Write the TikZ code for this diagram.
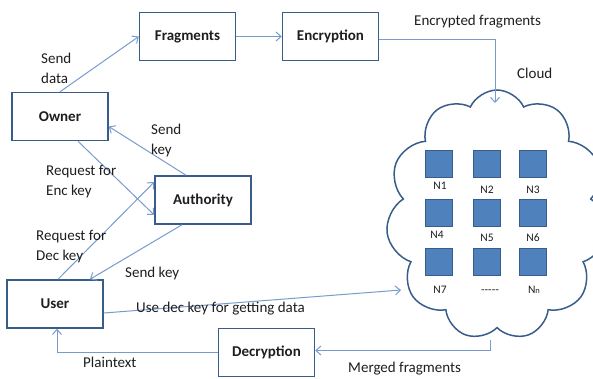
\documentclass[tikz,border=0pt]{standalone}
\usepackage{fontspec}
\setmainfont{Carlito}
\usetikzlibrary{arrows.meta,shapes.symbols}
\definecolor{boxblue}{RGB}{56,93,138}
\definecolor{arrblue}{RGB}{120,155,205}
\definecolor{sqfill}{RGB}{79,129,189}
\definecolor{txt}{RGB}{30,30,30}
\tikzset{
  box/.style={draw=boxblue,line width=1.5pt,minimum width=96pt,minimum height=48pt,inner sep=0pt,font=\fontsize{15}{18}\selectfont\bfseries,text=txt},
  conn/.style={draw=arrblue,line width=1pt,-{Straight Barb[length=5pt,width=9pt]}},
  lbl/.style={inner sep=0pt,font=\fontsize{15}{20}\selectfont,text=txt,align=left},
  sq/.style={draw=boxblue,fill=sqfill,line width=1pt,minimum size=27pt,inner sep=0pt},
  nlbl/.style={inner sep=0pt,font=\fontsize{11.5}{13}\selectfont,text=txt}
}
\begin{document}
\begin{tikzpicture}[x=1pt,y=-1pt]
\useasboundingbox (0,0) rectangle (593,378);
% cloud
\node[cloud,cloud puffs=11,cloud puff arc=130,cloud ignores aspect,draw=boxblue,line width=1.5pt,minimum width=222pt,minimum height=250pt] (cloud) at (497,215) {};
% boxes
\node[box] (frag) at (187.5,36.5) {Fragments};
\node[box] (enc) at (330.5,36.5) {Encryption};
\node[box] (owner) at (60,116.5) {Owner};
\node[box] (auth) at (203,200) {Authority};
\node[box] (user) at (55,304) {User};
\node[box] (dec) at (266.5,352.5) {Decryption};
% squares
\foreach \i/\x/\y in {1/439/164,2/487/164,3/533/164,4/439/213,5/487/213,6/533/213,7/439/262,8/487/262,9/533/262}
  \node[sq] (s\i) at (\x,\y) {};
\node[nlbl] (n1) at (440,186) {N1};
\node[nlbl] (n2) at (487,190) {N2};
\node[nlbl] (n3) at (533,190) {N3};
\node[nlbl] (n4) at (437,235) {N4};
\node[nlbl] (n5) at (487,238) {N5};
\node[nlbl] (n6) at (533,238) {N6};
\node[nlbl] (n7) at (440,290) {N7};
\node[nlbl] (ndots) at (490,292) {{-}{-}{-}{-}{-}};
\node[nlbl] (nn) at (534,290) {N\raisebox{-0.5pt}{\fontsize{8.5}{9}\selectfont n}};
% coordinates on cloud
\coordinate (cTop) at (495,103);
\coordinate (cLeft) at (401,290);
\coordinate (cBot) at (490,340);
% connectors
\draw[conn] (owner.north) -- (frag.west);
\draw[conn] (frag.east) -- (enc.west);
\draw[conn] ([yshift=-3]enc.east) -| (cTop);
\draw[conn] ([xshift=-17]auth.north) -- ([yshift=-10]owner.east);
\draw[conn] ([xshift=18]owner.south) -- ([yshift=-15]auth.west);
\draw[conn] ([xshift=3]user.north) -- ([yshift=18]auth.west);
\draw[conn] ([xshift=-21]auth.south) -- ([xshift=35]user.north);
\draw[conn] ([yshift=-9]user.east) -- (cLeft);
\draw[conn] (cBot) |- ([yshift=2]dec.east);
\draw[conn] (dec.west) -| ([xshift=2]user.south);
% labels
\node[lbl,anchor=base west] (l1) at (41,83) {Send\\data};
\node[lbl,anchor=base west] (l2) at (151,154) {Send\\key};
\node[lbl,anchor=base west] (l3) at (46,195) {Request for\\Enc key};
\node[lbl,anchor=base west] (l4) at (36,260) {Request for\\Dec key};
\node[lbl,anchor=base west] (l5) at (125,277) {Send key};
\node[lbl,anchor=base west] (l6) at (136,312) {Use dec key for getting data};
\node[lbl,anchor=base west] (l7) at (83,367) {Plaintext};
\node[lbl,anchor=base west] (l8) at (348,372) {Merged fragments};
\node[lbl,anchor=base west] (l9) at (414,25) {Encrypted fragments};
\node[lbl,anchor=base west] (l10) at (517,78) {Cloud};
\end{tikzpicture}
\end{document}
